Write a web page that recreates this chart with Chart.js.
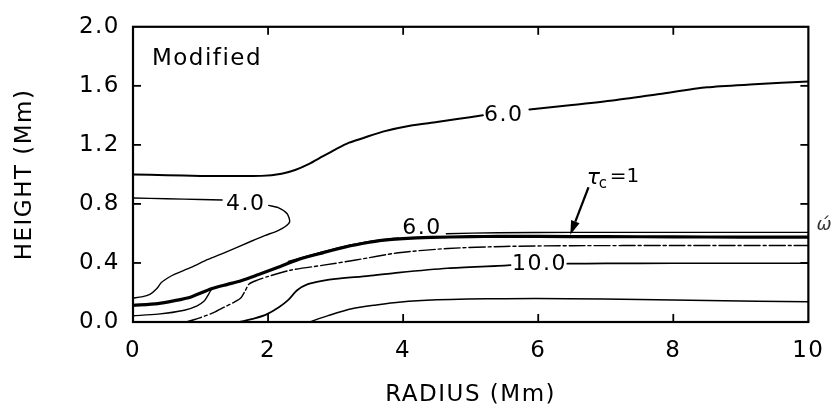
<!DOCTYPE html>
<html>
<head>
<meta charset="utf-8">
<script src="https://cdn.jsdelivr.net/npm/chart.js@4.4.1/dist/chart.umd.min.js"></script>
<style>
html,body{margin:0;padding:0;background:#fff;}
#wrap{width:838px;height:409px;position:relative;}
</style>
</head>
<body>
<div id="wrap"><canvas id="c" width="838" height="409"></canvas></div>
<script>
// ---- axis ticks ----
const xTickValues = [0, 2, 4, 6, 8, 10];
const yTickValues = [0, 0.4, 0.8, 1.2, 1.6, 2.0];
const xTitle = 'RADIUS (Mm)';
const yTitle = 'HEIGHT (Mm)';
const panelLabel = 'Modified';

// ---- contour 6.0 (upper) ----
const upper60X = [0, 0.5, 1.0, 1.5, 1.9, 2.2, 2.4, 2.6, 2.8, 3.0, 3.2, 3.4, 3.7, 4.1, 4.5, 4.8, 5.18, 5.5, 5.87, 6.5, 7.1, 7.8, 8.5, 9.2, 10];
const upper60Y = [1.00, 0.995, 0.99, 0.99, 0.99, 1.005, 1.03, 1.07, 1.12, 1.17, 1.215, 1.245, 1.29, 1.33, 1.355, 1.375, 1.40, null, 1.44, 1.47, 1.50, 1.545, 1.59, 1.61, 1.63];

// ---- contour 4.0 (closed loop on the left) ----
const c40X = [0, 0.5, 1.0, 1.32, 1.67, 2.01, 2.15, 2.28, 2.32, 2.25, 2.14, 1.95, 1.75, 1.35, 1.11, 0.86, 0.62, 0.52, 0.42, 0.35, 0.25, 0.13, 0];
const c40Y = [0.84, 0.835, 0.83, 0.827, null, 0.79, 0.775, 0.735, 0.68, 0.645, 0.618, 0.585, 0.547, 0.469, 0.424, 0.37, 0.325, 0.30, 0.267, 0.225, 0.187, 0.17, 0.163];

// ---- tau_c = 1 (thick) ----
const tauX = [0, 0.37, 0.6, 0.86, 1.16, 1.4, 1.6, 1.85, 2.09, 2.46, 2.82, 3.19, 3.5, 3.68, 4.0, 4.41, 5.0, 5.4, 6, 7, 8, 9, 10];
const tauY = [0.113, 0.125, 0.143, 0.17, 0.225, 0.255, 0.28, 0.32, 0.36, 0.425, 0.47, 0.513, 0.54, 0.553, 0.565, 0.573, 0.578, 0.58, 0.58, 0.578, 0.577, 0.575, 0.575];

// ---- contour 6.0 (lower) ----
const lower60X = [2.3, 2.8, 3.2, 3.5, 3.93, 4.28, 4.64, 5.4, 6.5, 8, 10];
const lower60Y = [0.41, 0.474, 0.52, 0.546, 0.569, null, 0.598, 0.605, 0.607, 0.607, 0.607];

// ---- contour A (bottom-left, joins tau_c = 1) ----
const aX = [0, 0.37, 0.76, 0.95, 1.05, 1.10, 1.14, 1.17];
const aY = [0.042, 0.053, 0.08, 0.11, 0.14, 0.173, 0.205, 0.228];

// ---- contour B (dash-dot) ----
const bX = [0.79, 1.0, 1.2, 1.35, 1.5, 1.6, 1.66, 1.72, 1.85, 1.99, 2.33, 2.82, 3.3, 3.93, 4.66, 5.5, 6.5, 8, 10];
const bY = [0, 0.03, 0.065, 0.1, 0.135, 0.165, 0.21, 0.258, 0.285, 0.307, 0.351, 0.385, 0.42, 0.469, 0.498, 0.512, 0.517, 0.518, 0.518];

// ---- contour 10.0 ----
const c10X = [1.57, 1.8, 1.97, 2.16, 2.3, 2.43, 2.58, 2.82, 3.0, 3.49, 3.93, 4.66, 5.4, 5.59, 6.0, 6.43, 7, 8, 9, 10];
const c10Y = [0, 0.025, 0.05, 0.10, 0.15, 0.215, 0.255, 0.28, 0.292, 0.313, 0.335, 0.364, 0.38, 0.385, null, 0.395, 0.397, 0.398, 0.398, 0.398];

// ---- bottom contour ----
const dX = [2.61, 2.9, 3.24, 3.6, 3.97, 4.5, 4.96, 5.5, 6.43, 7.5, 8.5, 10];
const dY = [0, 0.045, 0.09, 0.115, 0.135, 0.15, 0.156, 0.158, 0.158, 0.152, 0.145, 0.138];

// ---- contour labels (text, data x, data y) ----
const labelTexts = ['6.0', '4.0', '6.0', '10.0'];
const labelXs = [5.49, 1.67, 4.28, 6.02];
const labelYs = [1.40, 0.80, 0.633, 0.39];

// tau_c arrow (data coords: tail then head)
const arrowX = [6.745, 6.475];
const arrowY = [0.913, 0.591];

function pts(xs, ys) { return xs.map((x, i) => ({x: x, y: ys[i]})); }
function ds(xs, ys, w, dash) {
  return {data: pts(xs, ys), showLine: true, borderColor: '#000', borderWidth: w,
          pointRadius: 0, tension: 0.25, spanGaps: false, borderDash: dash || [],
          borderCapStyle: 'round', borderJoinStyle: 'round'};
}

const FONT = '"DejaVu Sans", "Liberation Sans", sans-serif';

const spacingPlugin = {
  id: 'spacing',
  beforeDraw(chart) { chart.ctx.letterSpacing = '1.5px'; }
};

const framePlugin = {
  id: 'frame',
  afterDatasetsDraw(chart) {
    const {ctx, chartArea: a, scales} = chart;
    const xs = scales.x, ys = scales.y;
    ctx.save();
    ctx.strokeStyle = '#000';
    ctx.lineWidth = 2.2;
    ctx.strokeRect(a.left, a.top, a.right - a.left, a.bottom - a.top);
    ctx.lineWidth = 1.8;
    const tl = 8;
    xs.ticks.forEach(t => {
      if (t.value <= xs.min || t.value >= xs.max) return;
      const px = xs.getPixelForValue(t.value);
      ctx.beginPath(); ctx.moveTo(px, a.bottom); ctx.lineTo(px, a.bottom - tl); ctx.stroke();
      ctx.beginPath(); ctx.moveTo(px, a.top); ctx.lineTo(px, a.top + tl); ctx.stroke();
    });
    ys.ticks.forEach(t => {
      if (t.value <= ys.min + 1e-9 || t.value >= ys.max - 1e-9) return;
      const py = ys.getPixelForValue(t.value);
      ctx.beginPath(); ctx.moveTo(a.left, py); ctx.lineTo(a.left + tl, py); ctx.stroke();
      ctx.beginPath(); ctx.moveTo(a.right, py); ctx.lineTo(a.right - tl, py); ctx.stroke();
    });

    // contour labels
    ctx.fillStyle = '#000';
    ctx.textAlign = 'center';
    ctx.textBaseline = 'middle';
    ctx.font = '22px ' + FONT;
    labelTexts.forEach((t, i) => {
      ctx.fillText(t, xs.getPixelForValue(labelXs[i]), ys.getPixelForValue(labelYs[i]));
    });

    // panel label
    ctx.textAlign = 'left';
    ctx.textBaseline = 'alphabetic';
    ctx.font = '23px ' + FONT;
    ctx.fillText(panelLabel, xs.getPixelForValue(0.28), ys.getPixelForValue(1.74));

    // tau_c = 1 label
    const tx = xs.getPixelForValue(6.72), ty = ys.getPixelForValue(0.933);
    ctx.letterSpacing = '0px';
    ctx.font = 'italic 22px ' + FONT;
    ctx.fillText('τ', tx, ty);
    ctx.font = '15px ' + FONT;
    ctx.fillText('c', tx + 12, ty + 4);
    ctx.font = '20px ' + FONT;
    ctx.fillText('=1', tx + 23, ty - 2);

    // arrow
    const x1 = xs.getPixelForValue(arrowX[0]), y1 = ys.getPixelForValue(arrowY[0]);
    const x2 = xs.getPixelForValue(arrowX[1]), y2 = ys.getPixelForValue(arrowY[1]);
    const ang = Math.atan2(y2 - y1, x2 - x1);
    const hl = 14, hw = 4.5;
    ctx.lineWidth = 2.2;
    ctx.beginPath(); ctx.moveTo(x1, y1);
    ctx.lineTo(x2 - hl * Math.cos(ang), y2 - hl * Math.sin(ang)); ctx.stroke();
    ctx.beginPath();
    ctx.moveTo(x2, y2);
    ctx.lineTo(x2 - hl * Math.cos(ang) + hw * Math.sin(ang), y2 - hl * Math.sin(ang) - hw * Math.cos(ang));
    ctx.lineTo(x2 - hl * Math.cos(ang) - hw * Math.sin(ang), y2 - hl * Math.sin(ang) + hw * Math.cos(ang));
    ctx.closePath(); ctx.fill();

    // stray mark at right margin
    ctx.font = 'italic 18px ' + FONT;
    ctx.fillStyle = '#333';
    ctx.fillText('ώ', xs.getPixelForValue(10.12), ys.getPixelForValue(0.62));
    ctx.restore();
  }
};

new Chart(document.getElementById('c'), {
  type: 'scatter',
  data: {
    datasets: [
      ds(upper60X, upper60Y, 2.0),
      ds(c40X, c40Y, 1.4),
      ds(tauX, tauY, 3.2),
      ds(lower60X, lower60Y, 1.4),
      ds(aX, aY, 1.4),
      ds(bX, bY, 1.4, [16, 3, 3, 3]),
      ds(c10X, c10Y, 1.7),
      ds(dX, dY, 1.5)
    ]
  },
  options: {
    responsive: false,
    animation: false,
    events: [],
    layout: {padding: {left: 0, right: 25, top: 22, bottom: 0}},
    plugins: {legend: {display: false}, tooltip: {enabled: false}},
    scales: {
      x: {
        type: 'linear', min: 0, max: 10,
        afterFit(s) { s.height = 87; },
        afterBuildTicks(s) { s.ticks = xTickValues.map(v => ({value: v})); },
        ticks: {color: '#000', font: {family: FONT, size: 23}, padding: 15,
                maxRotation: 0, callback: v => String(v)},
        grid: {display: false, drawTicks: false},
        border: {display: true, color: '#000', width: 2},
        title: {display: true, text: xTitle, color: '#000',
                font: {family: FONT, size: 23}, padding: {top: 0, bottom: 0}}
      },
      y: {
        type: 'linear', min: 0, max: 2,
        afterFit(s) { s.width = 133; },
        afterBuildTicks(s) { s.ticks = yTickValues.map(v => ({value: v})); },
        ticks: {color: '#000', font: {family: FONT, size: 23}, padding: 13,
                callback: v => Number(v).toFixed(1)},
        grid: {display: false, drawTicks: false},
        border: {display: true, color: '#000', width: 2},
        title: {display: true, text: yTitle, color: '#000',
                font: {family: FONT, size: 23}, padding: {top: 11, bottom: 4}}
      }
    }
  },
  plugins: [spacingPlugin, framePlugin]
});
</script>
</body>
</html>
